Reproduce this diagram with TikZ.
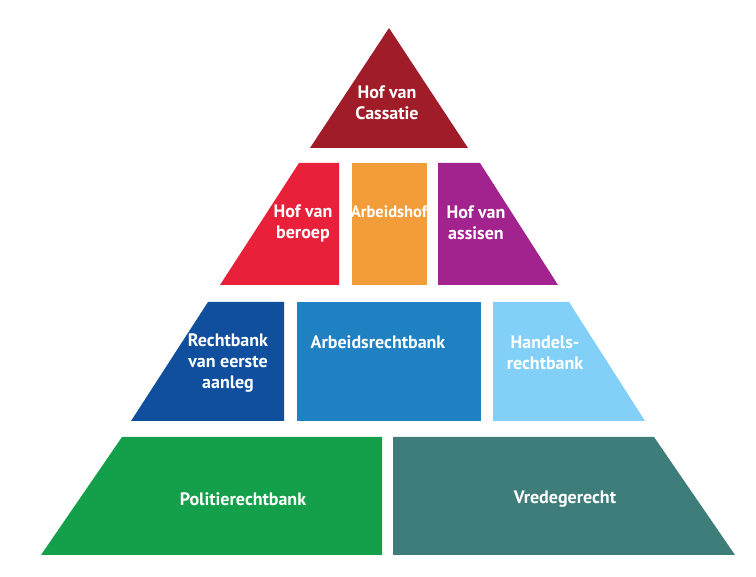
\documentclass[tikz,border=0pt]{standalone}
\usepackage{fontspec}
\setmainfont{PT Sans}
\begin{document}
\begin{tikzpicture}[x=1pt,y=-1pt,
  lbl/.style={text=white,font=\fontsize{18}{21}\selectfont\bfseries,align=center,inner sep=0pt}]
\definecolor{cassred}{HTML}{A01C28}
\definecolor{beroepred}{HTML}{E8203A}
\definecolor{arbhof}{HTML}{F39C3A}
\definecolor{assisen}{HTML}{A3238E}
\definecolor{eerste}{HTML}{0F4F9D}
\definecolor{arbrb}{HTML}{1F80C2}
\definecolor{handels}{HTML}{82D0F7}
\definecolor{politie}{HTML}{149F4A}
\definecolor{vrede}{HTML}{3F7D7A}
\useasboundingbox (0,0) rectangle (756,577);
% top level
\fill[cassred] (389,28) -- (468,148) -- (310,148) -- cycle;
% appeal level
\fill[beroepred] (299,163) -- (339,163) -- (339,285) -- (220,285) -- cycle;
\fill[arbhof] (352,163) rectangle (427,285);
\fill[assisen] (438,163) -- (480,163) -- (558,285) -- (438,285) -- cycle;
% first instance
\fill[eerste] (208,302) -- (284,302) -- (284,421) -- (131,421) -- cycle;
\fill[arbrb] (297,302) rectangle (481,421);
\fill[handels] (493,302) -- (569,302) -- (645,421) -- (493,421) -- cycle;
% base level
\fill[politie] (122,437) -- (382,437) -- (382,555) -- (41,555) -- cycle;
\fill[vrede] (393,437) -- (654,437) -- (735,555) -- (393,555) -- cycle;
% labels
\node[lbl] (tcass) at (387,103) {Hof van\\Cassatie};
\node[lbl] (tberoep) at (303,223) {Hof van\\beroep};
\node[lbl,font=\fontsize{16.5}{21}\selectfont\bfseries] (tarbhof) at (389,212) {Arbeidshof};
\node[lbl] (tassisen) at (476,223) {Hof van\\assisen};
\node[lbl] (teerste) at (228,363) {Rechtbank\\van eerste\\aanleg};
\node[lbl] (tarbrb) at (378,342) {Arbeidsrechtbank};
\node[lbl] (thandels) at (545,353) {Handels-\\rechtbank};
\node[lbl] (tpolitie) at (243,499) {Politierechtbank};
\node[lbl] (tvrede) at (565,499) {Vredegerecht};
\end{tikzpicture}
\end{document}
